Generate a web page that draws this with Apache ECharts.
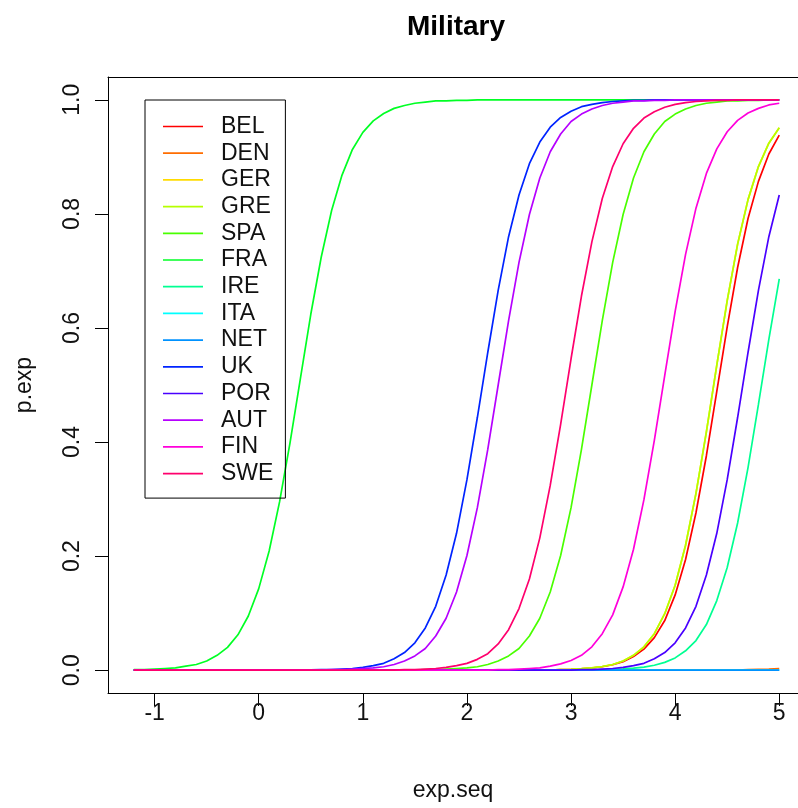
<!DOCTYPE html>
<html>
<head>
<meta charset="utf-8">
<script src="https://cdn.jsdelivr.net/npm/echarts@6/dist/echarts.min.js"></script>
<style>
  html, body { margin: 0; padding: 0; background: #fff; }
  #main { width: 798px; height: 808px; }
</style>
</head>
<body>
<div id="main"></div>
<script>
// exp.seq from -1.2 to 5 by 0.1
var expSeq = [-1.2, -1.1,
  -1.0, -0.9, -0.8, -0.7, -0.6, -0.5, -0.4, -0.3, -0.2, -0.1,
  0.0, 0.1, 0.2, 0.3, 0.4, 0.5, 0.6, 0.7, 0.8, 0.9,
  1.0, 1.1, 1.2, 1.3, 1.4, 1.5, 1.6, 1.7, 1.8, 1.9,
  2.0, 2.1, 2.2, 2.3, 2.4, 2.5, 2.6, 2.7, 2.8, 2.9,
  3.0, 3.1, 3.2, 3.3, 3.4, 3.5, 3.6, 3.7, 3.8, 3.9,
  4.0, 4.1, 4.2, 4.3, 4.4, 4.5, 4.6, 4.7, 4.8, 4.9,
  5.0]

var countries = ['BEL', 'DEN', 'GER', 'GRE', 'SPA', 'FRA', 'IRE', 'ITA', 'NET', 'UK', 'POR', 'AUT', 'FIN', 'SWE']
// rainbow(14)
var colors = ['#FF0000', '#FF6D00', '#FFDB00', '#B6FF00', '#49FF00', '#00FF24', '#00FF92',
  '#00FFFF', '#0092FF', '#0024FF', '#4900FF', '#B600FF', '#FF00DB', '#FF006D']

var xTicks = [-1, 0, 1, 2, 3, 4, 5]
var yTicks = [0, 0.2, 0.4, 0.6, 0.8, 1.0]

// p.exp per country
var bel = [0, 0,
  0, 0, 0, 0, 0, 0, 0, 0, 0, 0,
  0, 0, 0, 0, 0, 0, 0, 0, 0, 0,
  0, 0, 0, 0, 0, 0, 0, 0, 0, 0,
  0, 0, 0, 0, 0, 0, 0, 0, 0, 0.001,
  0.0015, 0.0024, 0.0038, 0.006, 0.0095, 0.015, 0.024, 0.037, 0.057, 0.087,
  0.132, 0.194, 0.276, 0.376, 0.489, 0.602, 0.706, 0.792, 0.857, 0.905,
  0.938]
var den = [0, 0,
  0, 0, 0, 0, 0, 0, 0, 0, 0, 0,
  0, 0, 0, 0, 0, 0, 0, 0, 0, 0,
  0, 0, 0, 0, 0, 0, 0, 0, 0, 0,
  0, 0, 0, 0, 0, 0, 0, 0, 0, 0,
  0, 0, 0, 0, 0, 0, 0, 0, 0, 0,
  0, 0, 0, 0, 0, 0, 0, 0.001, 0.0015, 0.002,
  0.003]
var ger = [0, 0,
  0, 0, 0, 0, 0, 0, 0, 0, 0, 0,
  0, 0, 0, 0, 0, 0, 0, 0, 0, 0,
  0, 0, 0, 0, 0, 0, 0, 0, 0, 0,
  0, 0, 0, 0, 0, 0, 0, 0, 0, 0.001,
  0.0016, 0.0026, 0.004, 0.0065, 0.010, 0.016, 0.026, 0.041, 0.064, 0.099,
  0.149, 0.219, 0.310, 0.418, 0.535, 0.648, 0.747, 0.825, 0.883, 0.924,
  0.951]
var gre = [0, 0,
  0, 0, 0, 0, 0, 0, 0, 0, 0, 0,
  0, 0, 0, 0, 0, 0, 0, 0, 0, 0,
  0, 0, 0, 0, 0, 0, 0, 0, 0, 0,
  0, 0, 0, 0, 0, 0, 0, 0, 0, 0.001,
  0.0016, 0.0026, 0.004, 0.0065, 0.010, 0.016, 0.026, 0.041, 0.064, 0.099,
  0.149, 0.219, 0.310, 0.418, 0.535, 0.648, 0.747, 0.825, 0.883, 0.924,
  0.951]
var spa = [0, 0,
  0, 0, 0, 0, 0, 0, 0, 0, 0, 0,
  0, 0, 0, 0, 0, 0, 0, 0, 0, 0,
  0, 0, 0, 0, 0, 0, 0.001, 0.001, 0.002, 0.003,
  0.004, 0.006, 0.010, 0.016, 0.025, 0.038, 0.060, 0.091, 0.137, 0.201,
  0.285, 0.387, 0.5, 0.613, 0.715, 0.799, 0.863, 0.909, 0.940, 0.962,
  0.975, 0.984, 0.990, 0.994, 0.996, 0.998, 0.998, 0.999, 0.999, 1,
  1]
var fra = [0.001, 0.001,
  0.002, 0.003, 0.004, 0.007, 0.010, 0.016, 0.026, 0.040, 0.062, 0.095,
  0.143, 0.209, 0.295, 0.398, 0.511, 0.624, 0.724, 0.806, 0.868, 0.913,
  0.943, 0.963, 0.976, 0.985, 0.990, 0.994, 0.996, 0.998, 0.998, 0.999,
  0.999, 1, 1, 1, 1, 1, 1, 1, 1, 1,
  1, 1, 1, 1, 1, 1, 1, 1, 1, 1,
  1, 1, 1, 1, 1, 1, 1, 1, 1, 1,
  1]
var ire = [0, 0,
  0, 0, 0, 0, 0, 0, 0, 0, 0, 0,
  0, 0, 0, 0, 0, 0, 0, 0, 0, 0,
  0, 0, 0, 0, 0, 0, 0, 0, 0, 0,
  0, 0, 0, 0, 0, 0, 0, 0, 0, 0,
  0, 0, 0, 0.001, 0.0014, 0.0022, 0.0035, 0.0055, 0.0087, 0.0137,
  0.0215, 0.034, 0.052, 0.080, 0.122, 0.180, 0.258, 0.355, 0.466, 0.580,
  0.686]
var ita = [0, 0,
  0, 0, 0, 0, 0, 0, 0, 0, 0, 0,
  0, 0, 0, 0, 0, 0, 0, 0, 0, 0,
  0, 0, 0, 0, 0, 0, 0, 0, 0, 0,
  0, 0, 0, 0, 0, 0, 0, 0, 0, 0,
  0, 0, 0, 0, 0, 0, 0, 0, 0, 0,
  0, 0, 0, 0, 0, 0, 0, 0, 0, 0,
  0]
var net = [0, 0,
  0, 0, 0, 0, 0, 0, 0, 0, 0, 0,
  0, 0, 0, 0, 0, 0, 0, 0, 0, 0,
  0, 0, 0, 0, 0, 0, 0, 0, 0, 0,
  0, 0, 0, 0, 0, 0, 0, 0, 0, 0,
  0, 0, 0, 0, 0, 0, 0, 0, 0, 0,
  0, 0, 0, 0, 0, 0, 0, 0, 0, 0,
  0]
var uk = [0, 0,
  0, 0, 0, 0, 0, 0, 0, 0, 0, 0,
  0, 0, 0, 0, 0, 0.0005, 0.001, 0.001, 0.002, 0.003,
  0.005, 0.008, 0.012, 0.020, 0.031, 0.048, 0.074, 0.112, 0.167, 0.240,
  0.334, 0.443, 0.557, 0.666, 0.760, 0.833, 0.888, 0.926, 0.952, 0.969,
  0.980, 0.988, 0.992, 0.995, 0.997, 0.998, 0.999, 0.999, 1, 1,
  1, 1, 1, 1, 1, 1, 1, 1, 1, 1,
  1]
var por = [0, 0,
  0, 0, 0, 0, 0, 0, 0, 0, 0, 0,
  0, 0, 0, 0, 0, 0, 0, 0, 0, 0,
  0, 0, 0, 0, 0, 0, 0, 0, 0, 0,
  0, 0, 0, 0, 0, 0, 0, 0, 0, 0,
  0, 0.001, 0.001, 0.002, 0.003, 0.005, 0.008, 0.012, 0.020, 0.031,
  0.048, 0.074, 0.112, 0.167, 0.240, 0.334, 0.443, 0.557, 0.666, 0.760,
  0.833]
var aut = [0, 0,
  0, 0, 0, 0, 0, 0, 0, 0, 0, 0,
  0, 0, 0, 0, 0, 0, 0, 0.001, 0.001, 0.002,
  0.003, 0.004, 0.006, 0.010, 0.016, 0.025, 0.038, 0.060, 0.091, 0.137,
  0.201, 0.285, 0.387, 0.5, 0.613, 0.715, 0.799, 0.863, 0.909, 0.940,
  0.962, 0.975, 0.984, 0.990, 0.994, 0.996, 0.998, 0.998, 0.999, 0.999,
  1, 1, 1, 1, 1, 1, 1, 1, 1, 1,
  1]
var fin = [0, 0,
  0, 0, 0, 0, 0, 0, 0, 0, 0, 0,
  0, 0, 0, 0, 0, 0, 0, 0, 0, 0,
  0, 0, 0, 0, 0, 0, 0, 0, 0, 0,
  0, 0, 0, 0.001, 0.001, 0.002, 0.003, 0.004, 0.007, 0.011,
  0.017, 0.026, 0.041, 0.064, 0.097, 0.146, 0.212, 0.299, 0.403, 0.517,
  0.629, 0.729, 0.810, 0.871, 0.914, 0.944, 0.964, 0.977, 0.985, 0.991,
  0.994]
var swe = [0, 0,
  0, 0, 0, 0, 0, 0, 0, 0, 0, 0,
  0, 0, 0, 0, 0, 0, 0, 0, 0, 0,
  0, 0, 0, 0, 0.001, 0.001, 0.002, 0.003, 0.005, 0.008,
  0.012, 0.019, 0.029, 0.046, 0.071, 0.108, 0.160, 0.232, 0.324, 0.431,
  0.546, 0.656, 0.751, 0.827, 0.883, 0.923, 0.950, 0.968, 0.979, 0.987,
  0.992, 0.995, 0.997, 0.998, 0.999, 0.999, 1, 1, 1, 1,
  1]

var pExp = [bel, den, ger, gre, spa, fra, ire, ita, net, uk, por, aut, fin, swe]

var font = 'Liberation Sans, Arial, Helvetica, sans-serif'
var chart = echarts.init(document.getElementById('main'), null, { renderer: 'canvas' })

var series = countries.map(function (name, i) {
  return {
    name: name,
    type: 'line',
    symbol: 'none',
    color: colors[i],
    lineStyle: { color: colors[i], width: 1.7 },
    data: expSeq.map(function (x, j) { return [x, pExp[i][j]] })
  }
})

var boxLine = { show: true, onZero: false, lineStyle: { color: '#000', width: 1 } }

var option = {
  backgroundColor: '#fff',
  animation: false,
  title: {
    text: 'Military',
    left: 407,
    top: 13,
    padding: 0,
    textStyle: { fontFamily: font, fontSize: 28, fontWeight: 'bold', color: '#000' }
  },
  legend: {
    orient: 'vertical',
    left: 145,
    top: 100,
    padding: [15, 12, 13, 18],
    itemGap: 3.7,
    icon: 'rect',
    itemWidth: 40,
    itemHeight: 1.7,
    borderColor: '#000',
    borderWidth: 1,
    selectedMode: false,
    data: countries,
    textStyle: {
      fontFamily: font,
      fontSize: 23,
      lineHeight: 23,
      color: '#111',
      width: 50,
      padding: [0, 0, 0, 13]
    }
  },
  // the plot box is cut off at the right edge, so only left/top/bottom are drawn
  grid: {
    left: 108,
    top: 77,
    right: 0,
    bottom: 115,
    show: false
  },
  xAxis: [{
    type: 'value',
    position: 'bottom',
    min: -1.448,
    max: 5.18,
    name: 'exp.seq',
    nameLocation: 'middle',
    nameGap: 86,
    nameTextStyle: { fontFamily: font, fontSize: 23, color: '#111' },
    axisLine: boxLine,
    splitLine: { show: false },
    axisTick: { show: true, inside: false, length: 13, customValues: xTicks, lineStyle: { color: '#000', width: 1 } },
    axisLabel: {
      customValues: xTicks,
      margin: 9,
      fontFamily: font,
      fontSize: 23,
      color: '#111',
      formatter: function (v) { return String(v) }
    }
  }, {
    type: 'value',
    position: 'top',
    min: -1.448,
    max: 5.18,
    axisLine: boxLine,
    axisTick: { show: false },
    axisLabel: { show: false },
    splitLine: { show: false }
  }],
  yAxis: {
    type: 'value',
    min: -0.04,
    max: 1.04,
    name: 'p.exp',
    nameLocation: 'middle',
    nameGap: 72,
    nameRotate: 90,
    nameTextStyle: { fontFamily: font, fontSize: 23, color: '#111' },
    axisLine: boxLine,
    splitLine: { show: false },
    axisTick: { show: true, inside: false, length: 13, customValues: yTicks, lineStyle: { color: '#000', width: 1 } },
    axisLabel: {
      customValues: yTicks,
      rotate: 90,
      margin: 24,
      fontFamily: font,
      fontSize: 23,
      color: '#111',
      formatter: function (v) { return v.toFixed(1) }
    }
  },
  series: series
}

chart.setOption(option)
</script>
</body>
</html>
